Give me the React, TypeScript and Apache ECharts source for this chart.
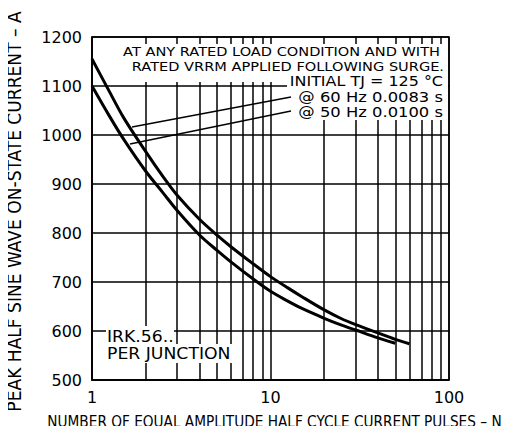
import React, { useEffect, useRef } from "react";
import * as echarts from "echarts";

// 60 Hz (0.0083 s) curve
const n60 = [1, 1.25, 1.5, 2, 2.5, 3, 4, 5, 6, 8, 10, 12.5, 15, 20, 25, 30, 40, 50, 60];
const i60 = [1155, 1089, 1036, 966, 915, 877, 828, 796, 772, 737, 711, 688, 670, 643, 625, 613, 596, 583, 574];
// 50 Hz (0.0100 s) curve
const n50 = [1, 1.25, 1.5, 2, 2.5, 3, 4, 5, 6, 8, 10, 12.5, 15, 20, 25, 30, 40, 50];
const i50 = [1100, 1039, 992, 926, 882, 846, 796, 765, 741, 706, 681, 661, 646, 626, 612, 602, 586, 575];

const minorX = [2, 3, 4, 5, 6, 7, 8, 9, 20, 30, 40, 50, 60, 70, 80, 90];
const yTicks = [500, 600, 700, 800, 900, 1000, 1100, 1200];

const FONT = "DejaVu Sans";

export default function App() {
  const ref = useRef<HTMLDivElement>(null);
  useEffect(() => {
    const chart = echarts.init(ref.current!, null, { renderer: "svg" });
    const txt = (x: number, y: number, text: string, size: number, sx: number, align = "right") => ({
      type: "text",
      x,
      y,
      z: 5,
      scaleX: sx,
      style: {
        text,
        fill: "#000",
        font: `${size}px "${FONT}"`,
        textAlign: align,
        textVerticalAlign: "middle",
      },
    });
    const rect = (x: number, y: number, w: number, h: number) => ({
      type: "rect",
      z: 1,
      shape: { x, y, width: w, height: h },
      style: { fill: "#fff" },
    });
    chart.setOption({
      animation: false,
      backgroundColor: "#fff",
      grid: {
        left: 92,
        right: 61,
        top: 37,
        bottom: 54,
        outerBoundsMode: "none",
        containLabel: false,
        show: true,
        borderColor: "#000",
        borderWidth: 1.5,
        backgroundColor: "transparent",
      },
      xAxis: {
        type: "log",
        logBase: 10,
        min: 1,
        max: 100,
        name: "NUMBER OF EQUAL AMPLITUDE HALF CYCLE CURRENT PULSES – N",
        nameLocation: "middle",
        nameGap: 34,
        nameMoveOverlap: false,
        nameTextStyle: { fontFamily: "DejaVu Sans Condensed", fontSize: 15.2, color: "#000", padding: [0, 0, 0, 8] },
        axisLine: { lineStyle: { color: "#000", width: 1.5 } },
        axisTick: { show: false },
        axisLabel: { color: "#000", fontFamily: FONT, fontSize: 16, margin: 9 },
        splitLine: { show: true, lineStyle: { color: "#000", width: 1.5 } },
        minorTick: { show: false },
        minorSplitLine: { show: false },
      },
      yAxis: {
        type: "value",
        min: 500,
        max: 1200,
        interval: 100,
        name: "PEAK HALF SINE WAVE ON-STATE CURRENT – A",
        nameLocation: "middle",
        nameGap: 69,
        nameMoveOverlap: false,
        nameTextStyle: { fontFamily: "DejaVu Sans Condensed", fontSize: 19, color: "#000", padding: [0, 6, 0, 0] },
        axisLine: { show: true, lineStyle: { color: "#000", width: 1.5 } },
        axisTick: { show: false },
        axisLabel: {
          color: "#000",
          fontFamily: FONT,
          fontSize: 16,
          margin: 10,
          formatter: (v: number) => (yTicks.includes(v) ? String(v) : ""),
        },
        splitLine: { show: true, lineStyle: { color: "#000", width: 1.5 } },
      },
      series: [
        {
          name: "grid",
          type: "line",
          z: 0,
          data: [],
          silent: true,
          markLine: {
            z: 0,
            silent: true,
            symbol: ["none", "none"],
            label: { show: false },
            lineStyle: { color: "#000", width: 1.5, type: "solid" },
            data: minorX.map((v) => ({ xAxis: v })),
          },
        },
        {
          name: "60 Hz 0.0083 s",
          type: "line",
          z: 3,
          smooth: 0.3,
          showSymbol: false,
          lineStyle: { color: "#000", width: 3 },
          data: n60.map((n, k) => [n, i60[k]]),
        },
        {
          name: "50 Hz 0.0100 s",
          type: "line",
          z: 3,
          smooth: 0.3,
          showSymbol: false,
          lineStyle: { color: "#000", width: 3 },
          data: n50.map((n, k) => [n, i50[k]]),
        },
      ],
      graphic: [
        rect(119, 44, 168, 38),
        rect(287, 44, 161, 76),
        rect(106, 326, 68, 18),
        rect(104, 344, 132, 19),
        txt(440, 51, "AT ANY RATED LOAD CONDITION AND WITH", 13, 1.12),
        txt(444, 66, "RATED VRRM APPLIED FOLLOWING SURGE.", 13, 1.12),
        txt(443, 81, "INITIAL TJ = 125 °C", 14, 1.14),
        txt(443, 97, "@ 60 Hz 0.0083 s", 14, 1.17),
        txt(443, 112, "@ 50 Hz 0.0100 s", 14, 1.17),
        txt(107, 337, "IRK.56..", 15, 1.15, "left"),
        txt(107, 354, "PER JUNCTION", 15, 1.15, "left"),
        {
          type: "line",
          z: 4,
          shape: { x1: 291, y1: 97, x2: 132, y2: 127 },
          style: { stroke: "#000", lineWidth: 1.3 },
        },
        {
          type: "line",
          z: 4,
          shape: { x1: 291, y1: 111, x2: 130, y2: 144 },
          style: { stroke: "#000", lineWidth: 1.3 },
        },
      ],
    });
    return () => chart.dispose();
  }, []);
  return <div ref={ref} style={{ width: 510, height: 434, margin: -8 }} />;
}
